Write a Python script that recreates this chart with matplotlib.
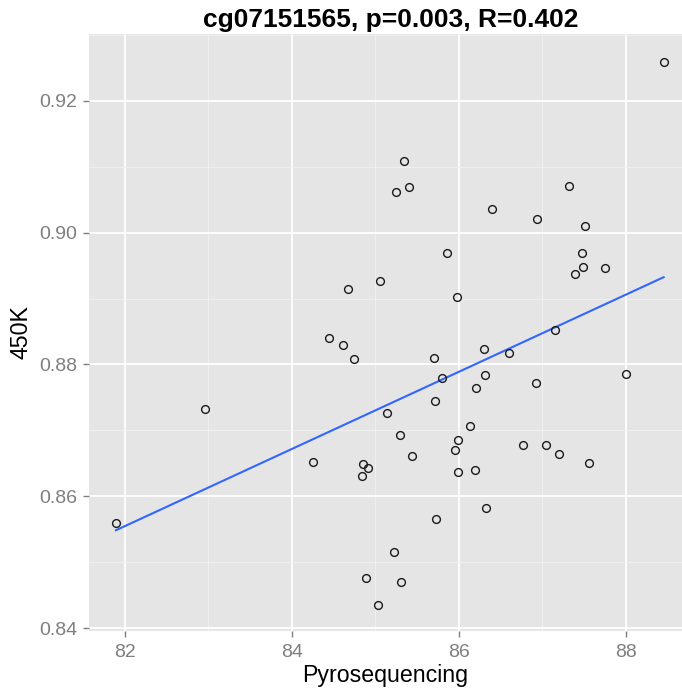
import numpy as np
import matplotlib
matplotlib.use("Agg")
import matplotlib.pyplot as plt
from matplotlib.ticker import MultipleLocator

plt.rcParams['font.family'] = ['Liberation Sans', 'DejaVu Sans']

title = "cg07151565, p=0.003, R=0.402"
xlabel = "Pyrosequencing"
ylabel = "450K"

pyro = [84.669, 85.059,
        88.455, 85.347, 85.247, 85.403, 86.398, 86.937, 87.324, 87.508, 87.476,
        87.484, 87.397, 87.756, 85.859, 85.978,
        84.441, 84.612, 84.748, 82.959, 81.892, 84.249, 84.848, 84.912, 84.840,
        84.888, 85.028,
        87.156, 86.298, 86.598, 85.707, 85.799, 86.310, 88.004, 86.210, 86.925,
        85.719, 85.140, 86.134, 85.292, 85.990, 85.951, 85.439, 86.764, 87.045,
        87.204, 87.556, 85.994, 86.198, 86.326, 85.727, 85.220, 85.307]
k450 = [0.8914, 0.89266,
        0.92582, 0.91081, 0.90616, 0.90691, 0.90358, 0.90206, 0.90707, 0.90096, 0.89686,
        0.89483, 0.89368, 0.89463, 0.89695, 0.89019,
        0.88402, 0.88296, 0.88083, 0.87321, 0.85592, 0.86522, 0.86491, 0.86431, 0.86309,
        0.84763, 0.84358,
        0.88523, 0.88235, 0.88174, 0.88099, 0.87800, 0.87836, 0.87856, 0.87639, 0.87715,
        0.87442, 0.87265, 0.87063, 0.86926, 0.86855, 0.86708, 0.86617, 0.86775, 0.86775,
        0.86643, 0.86502, 0.86375, 0.86405, 0.85820, 0.85662, 0.85157, 0.84702]

x = np.array(pyro)
y = np.array(k450)

W, H = 682, 691
fig = plt.figure(figsize=(W / 100, H / 100), dpi=100)
ax = fig.add_axes([89 / W, (H - 631) / H, (682 - 89) / W, (631 - 34) / H])

ax.set_facecolor('#E5E5E5')
for s in ax.spines.values():
    s.set_visible(False)

ax.set_xlim(81.569, 88.675)
ax.set_ylim(0.8396, 0.9301)

ax.xaxis.set_minor_locator(MultipleLocator(1))
ax.yaxis.set_minor_locator(MultipleLocator(0.01))
ax.set_xticks([82, 84, 86, 88])
ax.set_xticklabels(['82', '84', '86', '88'])
ax.set_yticks([0.84, 0.86, 0.88, 0.90, 0.92])
ax.set_yticklabels(['0.84', '0.86', '0.88', '0.90', '0.92'])

ax.grid(which='major', color='white', linewidth=1.3)
ax.grid(which='minor', color='#F2F2F2', linewidth=0.6)
ax.set_axisbelow(True)

ax.tick_params(which='major', length=4.5, width=1.0, color='#7F7F7F',
               labelcolor='#7F7F7F', labelsize=14, pad=4)
ax.tick_params(axis='x', which='major', pad=5)
ax.tick_params(which='minor', length=0)

# regression line (lm)
b, a = np.polyfit(x, y, 1)
xl = np.array([x.min(), x.max()])
ax.plot(xl, a + b * xl, color='#3366FF', linewidth=1.5, zorder=2)

ax.plot(x, y, linestyle='none', marker='o', markersize=5.6,
        markerfacecolor='none', markeredgecolor='#1a1a1a', markeredgewidth=1.0, zorder=3)

ax.set_title(title, fontsize=19, fontweight='bold', pad=5, x=0.508)
ax.set_xlabel(xlabel, fontsize=16.7, labelpad=2)
ax.set_ylabel(ylabel, fontsize=16.7, labelpad=5)

fig.savefig('out.png', dpi=100)
